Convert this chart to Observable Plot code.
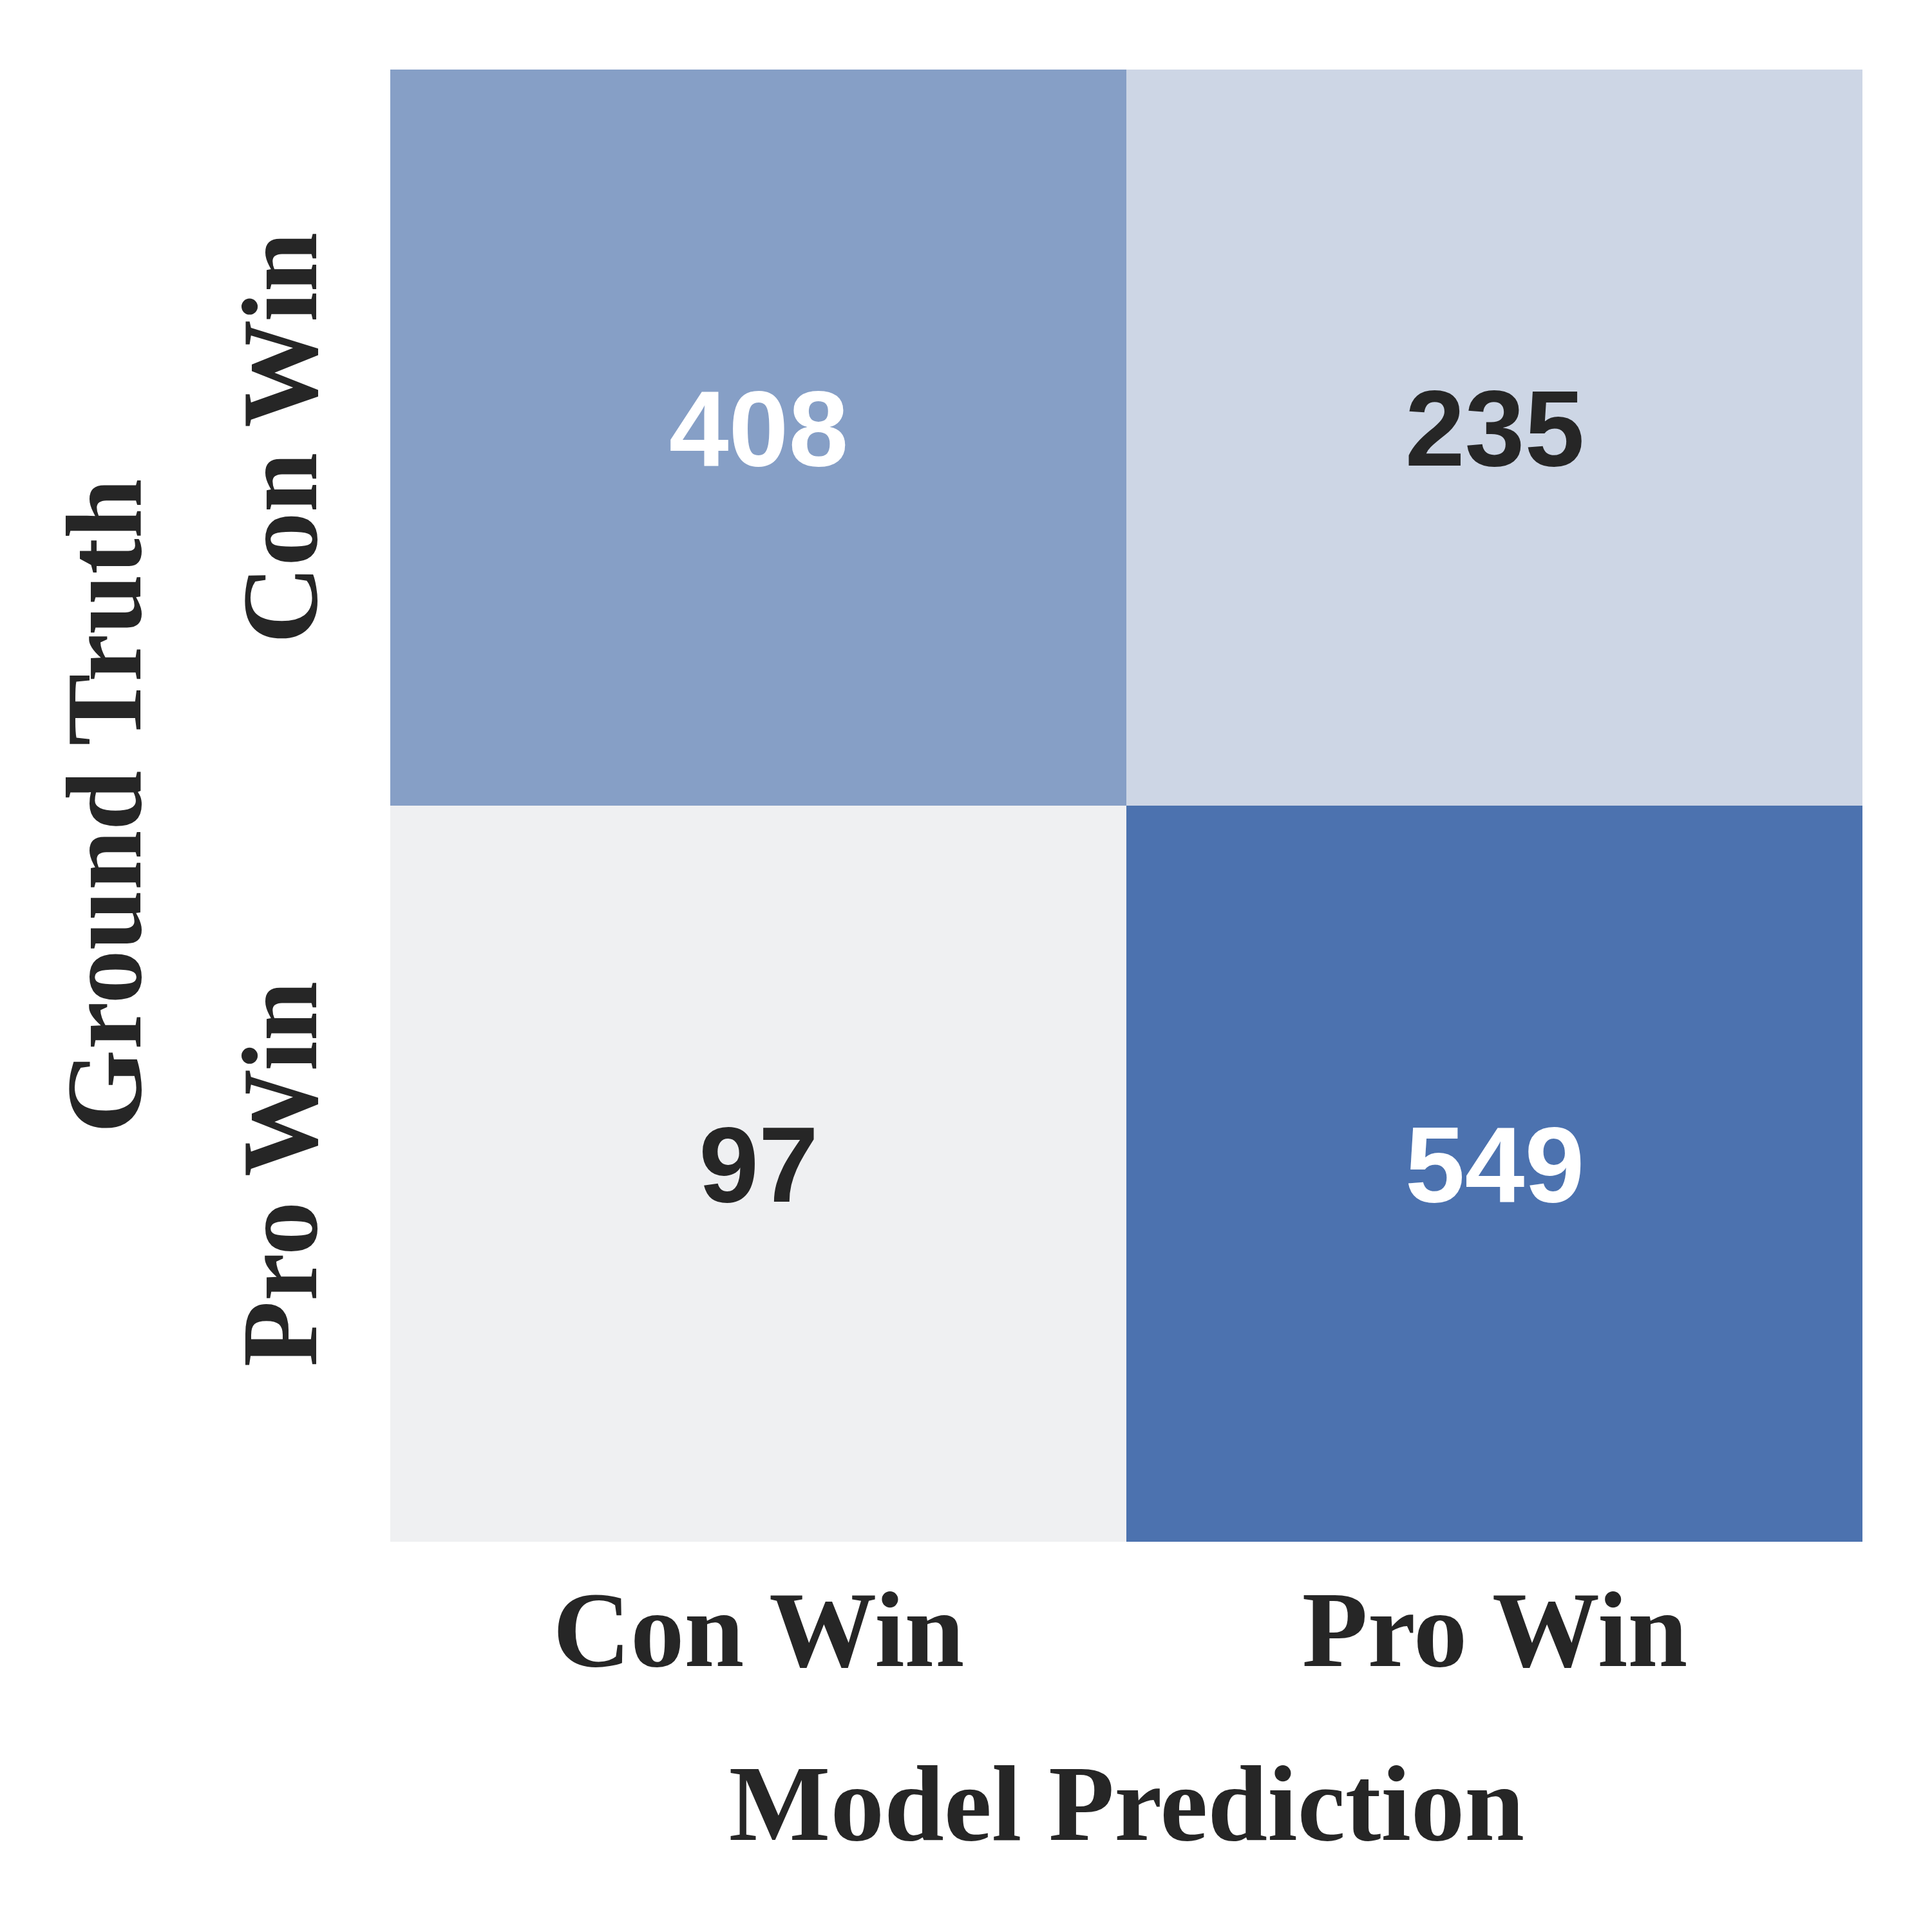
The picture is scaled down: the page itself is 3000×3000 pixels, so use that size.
<!DOCTYPE html>
<html><head><meta charset="utf-8">
<script src="https://cdn.jsdelivr.net/npm/d3@7"></script>
<script src="https://cdn.jsdelivr.net/npm/@observablehq/plot@0.6"></script>
<style>html,body{margin:0;padding:0;background:#fff} svg{display:block}</style>
</head><body><div id="chart"></div>
<script>
const predicted = ["Con Win", "Pro Win"];
const actual = ["Con Win", "Pro Win"];
const counts = [[408, 235], [97, 549]];
const colorStops = [97, 235, 408, 549];
const colorRange = ["#eff0f2", "#cdd6e5", "#869fc6", "#4c72af"];

const data = [];
actual.forEach((a, i) => predicted.forEach((p, j) => data.push({actual: a, predicted: p, count: counts[i][j]})));

const serif = "'Liberation Serif', 'Times New Roman', serif";
const sans = "'Liberation Sans', Arial, sans-serif";
const textOpts = {x: "predicted", y: "actual", text: d => String(d.count), fontSize: 167, fontWeight: "bold", fontFamily: sans, dy: -10};

const chart = Plot.plot({
  width: 3000, height: 3000,
  marginLeft: 606, marginTop: 108, marginRight: 108, marginBottom: 606,
  x: {domain: predicted, padding: 0},
  y: {domain: actual, padding: 0},
  color: {type: "linear", domain: colorStops, range: colorRange},
  style: {background: "#fff", color: "#262626"},
  marks: [
    Plot.cell(data, {x: "predicted", y: "actual", fill: "count"}),
    Plot.text(data.filter(d => d.count > 300), {...textOpts, fill: "#ffffff"}),
    Plot.text(data.filter(d => d.count <= 300), {...textOpts, fill: "#262626"}),
    Plot.axisX({tickSize: 0, tickPadding: 74, fontSize: 167, fontWeight: "bold", fontFamily: serif,
      label: "Model Prediction", labelAnchor: "center", labelOffset: 462}),
    Plot.axisY({tickSize: 0, tickPadding: 116, tickRotate: -90, fontSize: 167, fontWeight: "bold", fontFamily: serif,
      label: "Ground Truth", labelAnchor: "center", labelOffset: 507})
  ]
});
document.getElementById("chart").appendChild(chart);
</script></body></html>
